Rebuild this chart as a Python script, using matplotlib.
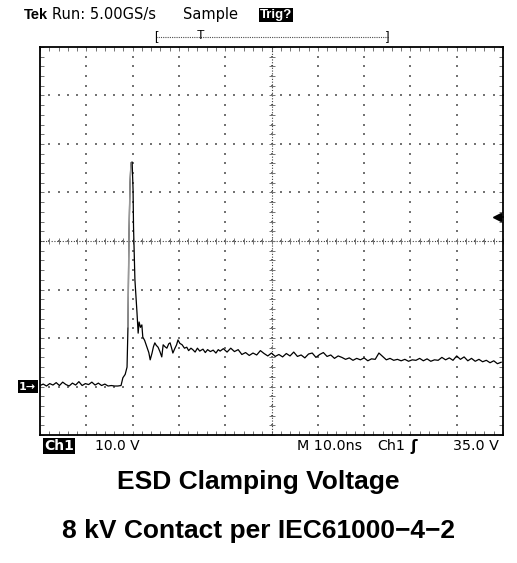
import numpy as np
import matplotlib
matplotlib.use("Agg")
from matplotlib import pyplot as plt

# scope trace: time (ns) and voltage (V), ground = 0 V
t_ns = [0, 0.7, 1.4, 2.1, 2.8, 3.5, 4.2, 4.9, 5.6, 6.3, 7.0, 7.7, 8.4, 9.1, 9.8,
        10.5, 11.2, 11.9, 12.6, 13.3, 14.0, 14.7, 15.4, 16.1, 16.8, 17.5,
        17.9, 18.4, 18.8, 19.0, 19.2, 19.45, 19.65, 19.9, 20.1, 20.2, 20.5, 20.95,
        21.2, 21.4, 21.7, 22.0, 22.2, 22.6, 23.1, 23.5, 23.8, 24.2, 24.5, 24.8,
        25.1, 25.5, 25.9, 26.3, 26.6, 27.0, 27.4, 27.8, 28.1, 28.4, 28.7, 29.1,
        29.5, 29.8, 30.2, 30.7, 31.2, 31.7, 32.1, 32.6, 33.0, 33.5, 34.0, 34.5,
        35.2, 35.7, 36.2, 36.8, 37.4, 38.0, 38.5, 38.9,
        39.6, 40.4, 41.2, 42.0, 42.8, 43.6, 44.4, 45.2, 46.0, 46.8, 47.6, 48.4,
        49.2, 50.0, 50.8, 51.6, 52.4, 53.2, 54.0, 54.8, 55.6, 56.4, 57.2, 58.0,
        58.8, 59.6, 60.4, 61.2, 62.0, 62.8, 63.6, 64.4, 65.2, 66.0, 66.8, 67.6,
        68.4, 69.2, 70.0, 70.8, 71.6, 72.4, 73.2, 74.0, 74.8, 75.6, 76.4, 77.2,
        78.0, 78.8, 79.6, 80.4, 81.2, 82.0, 82.8, 83.6, 84.4, 85.2, 86.0, 86.8,
        87.6, 88.4, 89.2, 90.0, 90.8, 91.6, 92.4, 93.2, 94.0, 94.8, 95.6, 96.4,
        97.2, 98.0, 98.8, 99.6]
volts = [0.2, 0.5, 0.1, 0.6, 0.3, 0.8, 0.2, 0.9, 0.4, 0.1, 0.7, 0.3, 1.0, 0.2, 0.6,
         0.4, 0.9, 0.3, 0.7, 0.2, 0.5, 0.1, 0.2, 0.1, 0.1, 0.2,
         1.8, 2.5, 4.0, 12.3, 30.2, 42.0, 46.1, 46.3, 40.5, 32.9, 22.0, 15.2,
         11.0, 13.3, 12.2, 12.7, 10.2, 9.5, 8.1, 7.0, 5.5, 6.9, 8.2, 9.0,
         8.5, 8.1, 7.2, 6.1, 8.6, 8.2, 7.9, 8.8, 9.0, 8.0, 6.9, 7.8,
         8.6, 9.6, 8.9, 8.6, 7.9, 8.1, 7.4, 7.9, 7.6, 7.1, 7.9, 7.3,
         7.7, 7.0, 7.6, 7.2, 7.5, 6.9, 7.6, 7.3,
         7.8, 7.1, 7.9, 7.2, 7.6, 6.6, 7.0, 6.4, 6.9, 6.5, 7.4, 6.8,
         6.3, 6.9, 6.2, 6.6, 6.1, 6.8, 6.3, 7.1, 6.2, 6.5, 5.9, 6.7,
         6.9, 6.0, 6.6, 7.0, 6.2, 6.5, 5.8, 6.3, 6.0, 5.6, 5.9, 5.4,
         5.8, 5.5, 5.9, 5.3, 5.7, 5.6, 6.9, 6.2, 5.5, 5.8, 5.4, 5.6,
         5.3, 5.6, 5.2, 5.5, 5.4, 5.8, 5.3, 5.7, 5.2, 5.5, 5.4, 6.0,
         5.5, 5.9, 5.4, 6.3, 5.6, 6.1, 5.3, 5.8, 5.2, 5.6, 5.1, 5.4,
         4.9, 5.3, 4.7, 5.0]

t_range = [0, 100]        # 10 ns/div
v_range = [-10, 70]       # 10 V/div, ground one div above bottom
trig_level = 35.0

W, H = 517, 563
fig = plt.figure(figsize=(W / 100, H / 100), dpi=100)
plt.rcParams['font.family'] = ['Liberation Sans', 'DejaVu Sans']


def fx(x):
    return x / W


def fy(y):
    return 1 - y / H


ax = fig.add_axes([fx(40), fy(435), fx(503) - fx(40), fy(47) - fy(435)])
ax.set_xlim(t_range)
ax.set_ylim(v_range)

# graticule dots
xdiv = np.arange(10, 100, 10)
ydiv = np.arange(0, 70, 10)
fine_x = np.arange(0, 101, 2)
fine_y = np.arange(-10, 71, 2)
gx, gy = np.meshgrid(xdiv, fine_y)
ax.scatter(gx.ravel(), gy.ravel(), s=1.0, marker='s', color='0.45', lw=0)
gx, gy = np.meshgrid(fine_x, ydiv)
ax.scatter(gx.ravel(), gy.ravel(), s=1.0, marker='s', color='0.45', lw=0)

# center crosshair
ax.axvline(50, color='0.25', lw=0.8, ls=(0, (1, 1.5)))
ax.axhline(30, color='0.25', lw=0.8, ls=(0, (1, 1.5)))
ax.plot([50] * len(fine_y), fine_y, ls='none', marker='_', ms=4, mew=0.7, color='0.45')
ax.plot(fine_x, [30] * len(fine_x), ls='none', marker='|', ms=4, mew=0.7, color='0.45')

# frame ticks
ax.set_xticks(fine_x)
ax.set_yticks(fine_y)
ax.set_xticklabels([])
ax.set_yticklabels([])
ax.tick_params(direction='in', length=3, width=0.7, color='0.45',
               top=True, right=True, bottom=True, left=True)
for s in ax.spines.values():
    s.set_linewidth(1.3)

# trace
ax.plot(t_ns, volts, color='black', lw=0.9)
ax.plot(t_ns[29:33], volts[29:33], color='0.6', lw=1.0)

# ground marker and trigger level
ax.text(-0.8, 0, '1\u2192', ha='right', va='center', color='white', fontsize=8,
        fontweight='bold', family='DejaVu Sans',
        bbox=dict(facecolor='black', edgecolor='none', pad=1.2), clip_on=False)
ax.plot([98.6], [trig_level], marker='<', ms=6, color='black', clip_on=False)
ax.plot([98.6, 100], [trig_level, trig_level], color='black', lw=1.2, clip_on=False)

# header
fig.text(fx(24), fy(15), 'Tek', fontsize=10.5, fontweight='bold', va='center')
fig.text(fx(52), fy(15), 'Run: 5.00GS/s', fontsize=10.5, va='center', family='DejaVu Sans')
fig.text(fx(183), fy(15), 'Sample', fontsize=10.5, va='center', family='DejaVu Sans')
fig.text(fx(260), fy(15), 'Trig?', fontsize=9.5, fontweight='bold', va='center', color='white',
         bbox=dict(facecolor='black', edgecolor='none', pad=0.8))
fig.add_artist(plt.Line2D([fx(156), fx(388)], [fy(37), fy(37)], color='0.3', lw=0.8,
                          ls=(0, (1, 1))))
fig.text(fx(156), fy(37), '[', fontsize=9, va='center', ha='center')
fig.text(fx(388), fy(37), ']', fontsize=9, va='center', ha='center')
fig.text(fx(201), fy(36), 'T', fontsize=9, va='center', ha='center')

# footer
fig.text(fx(44), fy(446), 'Ch1', fontsize=10, fontweight='bold', va='center', color='white',
         family='DejaVu Sans', bbox=dict(facecolor='black', edgecolor='none', pad=0.6))
fig.text(fx(95), fy(446), '10.0 V', fontsize=10, va='center', family='DejaVu Sans')
fig.text(fx(297), fy(446), 'M 10.0ns', fontsize=10.3, va='center', family='DejaVu Sans')
fig.text(fx(377), fy(446), 'Ch1', fontsize=10.3, va='center', family='DejaVu Sans')
fig.text(fx(410), fy(446), '\u0283', fontsize=11, va='center', fontweight='bold',
         family='DejaVu Sans')
fig.text(fx(453), fy(446), '35.0 V', fontsize=10.3, va='center', family='DejaVu Sans')

# captions
fig.text(0.5, fy(482), 'ESD Clamping Voltage', fontsize=19, fontweight='bold',
         ha='center', va='center')
fig.text(0.5, fy(531), '8 kV Contact per IEC61000\u22124\u22122', fontsize=19,
         fontweight='bold', ha='center', va='center')

fig.savefig('out.png', dpi=100)
